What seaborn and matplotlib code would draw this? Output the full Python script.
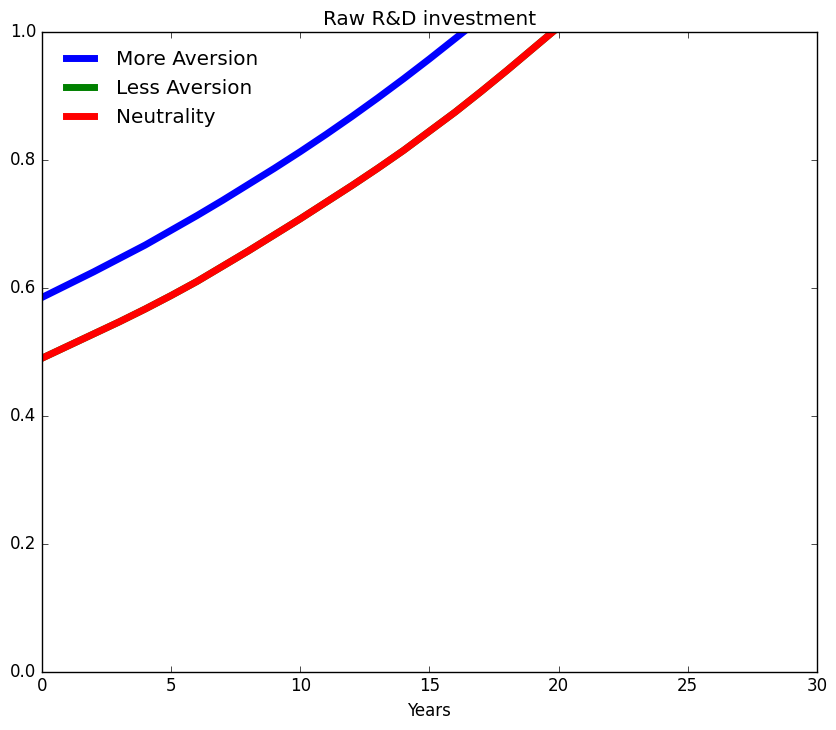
import matplotlib
matplotlib.use("Agg")
import matplotlib.pyplot as plt
import pandas as pd
import seaborn as sns

plt.style.use("classic")

years = list(range(0, 23))
more_aversion = [0.585, 0.605, 0.625, 0.646, 0.667, 0.690, 0.713, 0.737, 0.762, 0.787,
                 0.813, 0.840, 0.868, 0.897, 0.927, 0.958, 0.990, 1.022, 1.056, 1.090,
                 1.127, 1.165, 1.204]
neutrality = [0.490, 0.509, 0.528, 0.547, 0.567, 0.588, 0.610, 0.634, 0.658, 0.683,
              0.708, 0.734, 0.760, 0.787, 0.815, 0.845, 0.875, 0.907, 0.940, 0.974,
              1.008, 1.040, 1.080]
less_aversion = neutrality  # hidden under the red line

series = [("More Aversion", more_aversion, "blue"),
          ("Less Aversion", less_aversion, "green"),
          ("Neutrality", neutrality, "red")]

fig, ax = plt.subplots(figsize=(8.37, 7.3), dpi=100)
fig.patch.set_facecolor("white")
for label, vals, color in series:
    df = pd.DataFrame({"Years": years, "value": vals})
    sns.lineplot(data=df, x="Years", y="value", ax=ax, color=color, lw=5, label=label)

ax.set_xlim(0, 30)
ax.set_ylim(0, 1.0)
ax.set_title("Raw R&D investment")
ax.set_xlabel("Years")
ax.set_ylabel("")
ax.legend(loc="upper left", frameon=False)
fig.subplots_adjust(left=0.05, right=0.976, top=0.956, bottom=0.08)
fig.savefig("out.png", dpi=100, facecolor="white")
